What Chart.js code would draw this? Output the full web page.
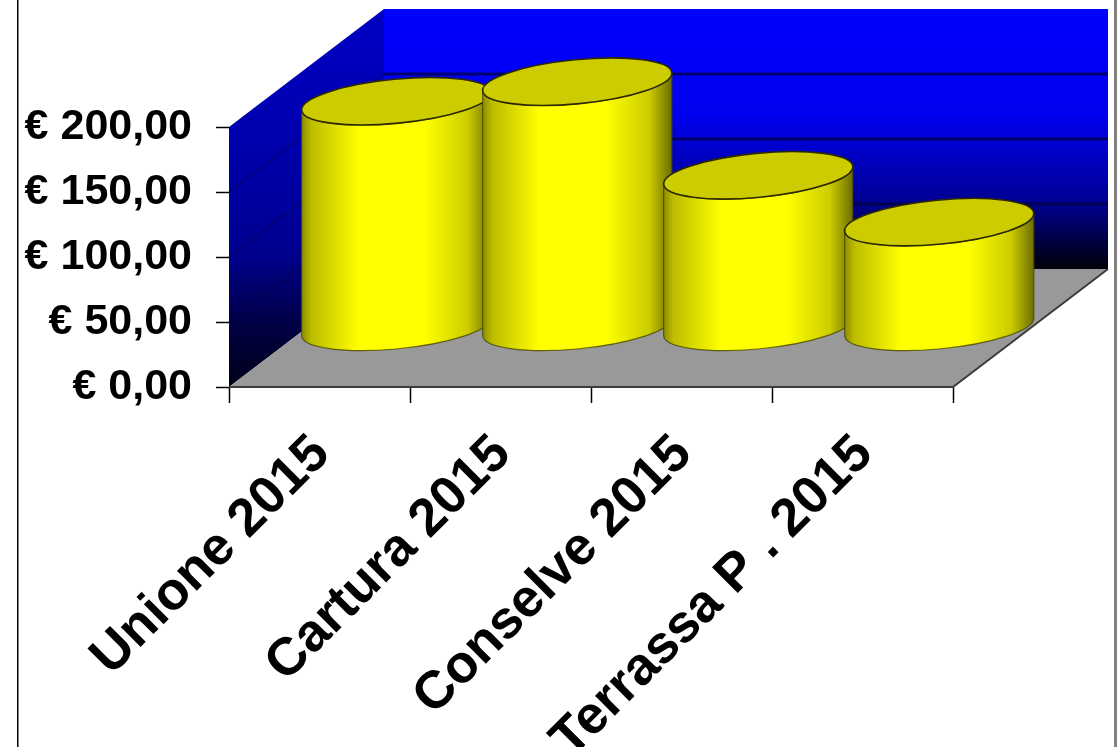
<!DOCTYPE html>
<html>
<head>
<meta charset="utf-8">
<title>Unione 2015</title>
<script src="https://cdn.jsdelivr.net/npm/chart.js@4"></script>
<style>
    html, body { margin: 0; padding: 0; background: #fff; overflow: hidden; }
    canvas { display: block; }
</style>
</head>
<body>
<canvas id="cylinderChart" width="1120" height="747"></canvas>
<script>
// Chart data
var categories = ['Unione 2015', 'Cartura 2015', 'Conselve 2015', 'Terrassa P . 2015'];
var seriesValues = [174, 189, 117, 81];
var yTicks = { min: 0, max: 200, step: 50 };

// 3D look: how far the back wall sits from the front axes
var depthX = 155;
var depthY = 118;

function euro(value) {
    return '€ ' + value.toFixed(2).replace('.', ',');
}

function polygon(ctx, points) {
    ctx.beginPath();
    ctx.moveTo(points[0][0], points[0][1]);
    for (var i = 1; i < points.length; i++) {
        ctx.lineTo(points[i][0], points[i][1]);
    }
    ctx.closePath();
}

// Page frame, walls and floor go under the bars
var wallsPlugin = {
    id: 'walls',
    beforeDraw: function (chart) {
        var ctx = chart.ctx;
        ctx.save();
        ctx.fillStyle = '#000';
        ctx.fillRect(17, 0, 1.5, chart.height);
        ctx.fillStyle = '#808080';
        ctx.fillRect(1114, 0, 3, chart.height);
        ctx.restore();
    },
    beforeDatasetsDraw: function (chart) {
        var ctx = chart.ctx;
        var area = chart.chartArea;
        var l = area.left, r = area.right, t = area.top, b = area.bottom;

        ctx.save();

        // side wall
        var side = ctx.createLinearGradient(0, t - depthY, 0, b);
        side.addColorStop(0, '#0000c4');
        side.addColorStop(0.32, '#0000b0');
        side.addColorStop(0.64, '#000090');
        side.addColorStop(0.85, '#000040');
        side.addColorStop(1, '#000018');
        ctx.fillStyle = side;
        polygon(ctx, [[l, t], [l + depthX, t - depthY], [l + depthX, b - depthY], [l, b]]);
        ctx.fill();

        // back wall
        var back = ctx.createLinearGradient(0, t - depthY, 0, b - depthY);
        back.addColorStop(0, '#0000ff');
        back.addColorStop(0.4, '#0000f0');
        back.addColorStop(0.75, '#000090');
        back.addColorStop(1, '#000008');
        ctx.fillStyle = back;
        ctx.fillRect(l + depthX, t - depthY, r - l, b - t);

        // floor
        ctx.fillStyle = '#999999';
        polygon(ctx, [[l, b], [r, b], [r + depthX, b - depthY], [l + depthX, b - depthY]]);
        ctx.fill();
        ctx.strokeStyle = '#3c3c3c';
        ctx.lineWidth = 2;
        ctx.beginPath();
        ctx.moveTo(l, b);
        ctx.lineTo(r, b);
        ctx.lineTo(r + depthX, b - depthY);
        ctx.stroke();

        // grid lines on both walls, one per value tick
        var yScale = chart.scales.y;
        yScale.ticks.forEach(function (tick) {
            if (tick.value === yTicks.min || tick.value === yTicks.max) return;
            var y = yScale.getPixelForValue(tick.value);
            ctx.strokeStyle = 'rgba(0, 0, 40, 0.25)';
            ctx.lineWidth = 2;
            ctx.beginPath();
            ctx.moveTo(l, y);
            ctx.lineTo(l + depthX, y - depthY);
            ctx.stroke();
            ctx.strokeStyle = 'rgba(0, 0, 60, 0.7)';
            ctx.lineWidth = 3;
            ctx.beginPath();
            ctx.moveTo(l + depthX, y - depthY);
            ctx.lineTo(r + depthX, y - depthY);
            ctx.stroke();
        });

        ctx.restore();
    }
};

// Each bar element is drawn as a cylinder, standing half way into the depth
var cylinderPlugin = {
    id: 'cylinders',
    afterDatasetsDraw: function (chart) {
        var ctx = chart.ctx;
        var tilt = -5.5 * Math.PI / 180;
        var minor = 22;

        chart.getDatasetMeta(0).data.forEach(function (bar) {
            var cx = bar.x + depthX * 0.495;
            var topY = bar.y - depthY * 0.505;
            var baseY = bar.base - depthY * 0.505;
            var major = bar.width / 2;

            // angle on the ellipse where its outline runs straight up and down
            var edge = Math.atan2(-minor * Math.sin(tilt), major * Math.cos(tilt));
            var ex = major * Math.cos(edge) * Math.cos(tilt) - minor * Math.sin(edge) * Math.sin(tilt);
            var ey = major * Math.cos(edge) * Math.sin(tilt) + minor * Math.sin(edge) * Math.cos(tilt);

            ctx.save();

            var shade = ctx.createLinearGradient(cx - ex, 0, cx + ex, 0);
            shade.addColorStop(0, '#8c8c00');
            shade.addColorStop(0.05, '#bcbc00');
            shade.addColorStop(0.3, '#ffff00');
            shade.addColorStop(0.65, '#ffff00');
            shade.addColorStop(0.88, '#cccc00');
            shade.addColorStop(1, '#6c6c00');

            // body
            ctx.beginPath();
            ctx.moveTo(cx + ex, topY + ey);
            ctx.lineTo(cx + ex, baseY + ey);
            ctx.ellipse(cx, baseY, major, minor, tilt, edge, edge + Math.PI, false);
            ctx.lineTo(cx - ex, topY - ey);
            ctx.ellipse(cx, topY, major, minor, tilt, edge + Math.PI, edge, true);
            ctx.closePath();
            ctx.fillStyle = shade;
            ctx.fill();
            ctx.strokeStyle = 'rgba(70, 70, 0, 0.8)';
            ctx.lineWidth = 1.2;
            ctx.stroke();

            // lid
            ctx.beginPath();
            ctx.ellipse(cx, topY, major, minor, tilt, 0, Math.PI * 2);
            ctx.fillStyle = '#cccc00';
            ctx.fill();
            ctx.strokeStyle = '#2e2a00';
            ctx.lineWidth = 1.6;
            ctx.stroke();

            ctx.restore();
        });
    }
};

var ctx = document.getElementById('cylinderChart').getContext('2d');
new Chart(ctx, {
    type: 'bar',
    data: {
        labels: categories,
        datasets: [{
            data: seriesValues,
            backgroundColor: 'transparent',
            barThickness: 190
        }]
    },
    options: {
        responsive: false,
        animation: false,
        layout: { padding: { top: 127, right: 167, left: 0, bottom: 0 } },
        plugins: {
            legend: { display: false },
            title: { display: false },
            tooltip: { enabled: false }
        },
        scales: {
            x: {
                afterFit: function (scale) { scale.height = 360; },
                border: { display: false },
                grid: { drawOnChartArea: false, tickLength: 16, tickColor: '#000', tickWidth: 1.5 },
                ticks: {
                    color: '#000',
                    padding: 20,
                    labelOffset: 2,
                    minRotation: 45,
                    maxRotation: 45,
                    autoSkip: false,
                    font: { family: '"Liberation Sans", Arial, sans-serif', size: 53, weight: 'bold' }
                }
            },
            y: {
                min: yTicks.min,
                max: yTicks.max,
                afterFit: function (scale) { scale.width = 229; },
                border: { display: false },
                grid: { drawOnChartArea: false, tickLength: 13, tickColor: '#000', tickWidth: 1.5 },
                ticks: {
                    stepSize: yTicks.step,
                    color: '#000',
                    padding: 24,
                    callback: function (value) { return euro(value); },
                    font: { family: '"Liberation Sans", Arial, sans-serif', size: 43, weight: 'bold' }
                }
            }
        }
    },
    plugins: [wallsPlugin, cylinderPlugin]
});
</script>
</body>
</html>
